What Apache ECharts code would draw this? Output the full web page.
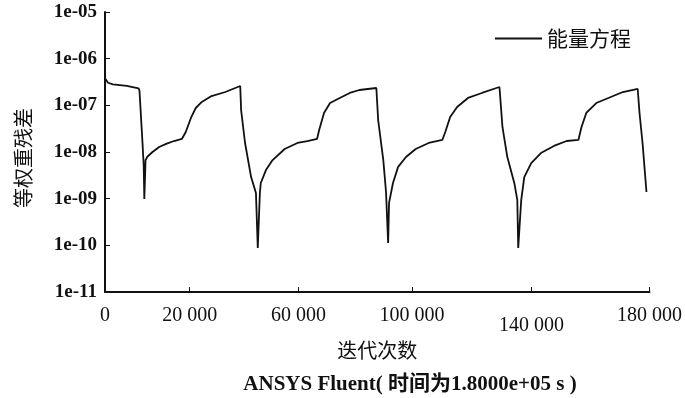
<!DOCTYPE html>
<html>
<head>
<meta charset="utf-8">
<script src="https://cdn.jsdelivr.net/npm/echarts@6/dist/echarts.min.js"></script>
<style>
html,body{margin:0;padding:0;background:#fff;}
#chart{width:685px;height:398px;}
</style>
</head>
<body>
<div id="chart"></div>
<script>
// Iteration count (x) and weighted residual (y)
const iterations = [
  0, 1000, 2600, 7200, 11100, 11400, 12400, 12800, 13000, 13200, 13400, 14000, 15700, 17900, 20200, 22800, 25400,
  26700, 28400, 30000, 32000, 35200, 39800, 44700,
  45000, 46300, 48300, 49900, 50500, 51200, 51500, 53200, 55400, 59400, 63600, 66900, 70100,
  70800, 72400, 74400, 77600, 80900, 84100, 89700,
  90300, 92000, 92900, 93600, 93900, 95200, 96900, 99500, 102700, 107000, 111500,
  112500, 114100, 116400, 120000, 124600, 130400,
  131400, 133000, 135300, 136300, 136600, 137600, 138600, 140900, 144100, 148400, 152600, 156500,
  157500, 159100, 162400, 167000, 171200, 176100,
  176700, 177700, 179000
];
const residuals = [
  3.8e-7, 3.05e-7, 2.82e-7, 2.6e-7, 2.32e-7, 2.06e-7, 1.56e-8, 5e-9, 9.8e-10, 1.0e-9, 6.7e-9, 7.9e-9, 1.0e-8, 1.28e-8, 1.49e-8, 1.72e-8, 1.9e-8,
  2.68e-8, 5.36e-8, 8.77e-8, 1.18e-7, 1.58e-7, 1.93e-7, 2.6e-7,
  7.9e-8, 1.56e-8, 2.9e-9, 1.32e-9, 8.8e-11, 1.32e-9, 2.17e-9, 4.1e-9, 6.7e-9, 1.16e-8, 1.56e-8, 1.72e-8, 1.9e-8,
  2.96e-8, 6.86e-8, 1.12e-7, 1.44e-7, 1.84e-7, 2.13e-7, 2.35e-7,
  4.85e-8, 6.7e-9, 1.39e-9, 1.12e-10, 8.1e-10, 2.17e-9, 4.8e-9, 7.8e-9, 1.16e-8, 1.56e-8, 1.81e-8,
  2.68e-8, 5.6e-8, 9.2e-8, 1.44e-7, 1.84e-7, 2.47e-7,
  3.4e-8, 7.8e-9, 2.17e-9, 9.4e-10, 8.8e-11, 9.4e-10, 2.9e-9, 5.8e-9, 9.5e-9, 1.35e-8, 1.72e-8, 1.81e-8,
  3.4e-8, 6.86e-8, 1.12e-7, 1.49e-7, 1.93e-7, 2.24e-7,
  6.86e-8, 1.56e-8, 1.39e-9
];
const xTickValues = [0, 28000, 64000, 101500, 141000, 180000];
const xTickLabels = ['0', '20 000', '60 000', '100 000', '140 000', '180 000'];
const yTickLabels = ['1e-11', '1e-10', '1e-09', '1e-08', '1e-07', '1e-06', '1e-05'];
const seriesName = '能量方程';
const xAxisName = '迭代次数';
const yAxisName = '等权重残差';
const footText = 'ANSYS Fluent( 时间为1.8000e+05 s )';

const serif = '"Liberation Serif", "DejaVu Serif", serif';
const cjk = '"Noto Sans CJK SC", sans-serif';

const chart = echarts.init(document.getElementById('chart'), null, {renderer: 'canvas'});
chart.setOption({
  animation: false,
  backgroundColor: '#fff',
  grid: {left: 105, right: 28, top: 12, bottom: 106, containLabel: false},
  legend: {
    data: [{name: seriesName, icon: 'rect'}],
    left: 490, top: 23,
    itemWidth: 47, itemHeight: 2, itemGap: 0,
    textStyle: {fontFamily: cjk, fontSize: 21, color: '#111'}
  },
  title: {
    text: footText,
    left: 405, top: 369, textAlign: 'center',
    textStyle: {fontFamily: serif + ', ' + cjk, fontSize: 21, fontWeight: 'bold', color: '#111'}
  },
  xAxis: {
    type: 'value', min: 0, max: 180000,
    name: xAxisName, nameLocation: 'middle', nameGap: 47,
    nameTextStyle: {fontFamily: cjk, fontSize: 20, color: '#111'},
    axisLine: {show: true, lineStyle: {color: '#111', width: 2}},
    axisTick: {show: true, inside: true, length: 5, customValues: xTickValues, lineStyle: {color: '#111', width: 1}},
    splitLine: {show: false},
    axisLabel: {
      customValues: xTickValues,
      margin: 14,
      formatter: function (v) {
        const i = xTickValues.indexOf(v);
        const t = i >= 0 ? xTickLabels[i] : '';
        return i === 4 ? '{low|' + t + '}' : t;
      },
      fontFamily: serif, fontSize: 20, color: '#111',
      rich: {low: {fontFamily: serif, fontSize: 20, color: '#111', padding: [10, 0, 0, 0]}}
    }
  },
  yAxis: {
    type: 'log', logBase: 10, min: 1e-11, max: 1e-5,
    name: yAxisName, nameLocation: 'middle', nameGap: 72, nameRotate: 90,
    nameTextStyle: {fontFamily: cjk, fontSize: 20, color: '#111', padding: [0, 12, 0, 0]},
    axisLine: {show: true, lineStyle: {color: '#111', width: 2}},
    axisTick: {show: true, inside: true, length: 5, lineStyle: {color: '#111', width: 1}},
    splitLine: {show: false},
    axisLabel: {
      margin: 8,
      formatter: function (v) {
        const i = Math.round(Math.log10(v)) + 11;
        return yTickLabels[i] || '';
      },
      fontFamily: serif, fontSize: 19, fontWeight: 'bold', color: '#111'
    }
  },
  series: [{
    name: seriesName,
    type: 'line',
    data: iterations.map((x, i) => [x, residuals[i]]),
    showSymbol: false,
    symbol: 'none',
    color: '#111',
    lineStyle: {color: '#111', width: 1.8},
    smooth: false
  }]
});
</script>
</body>
</html>
